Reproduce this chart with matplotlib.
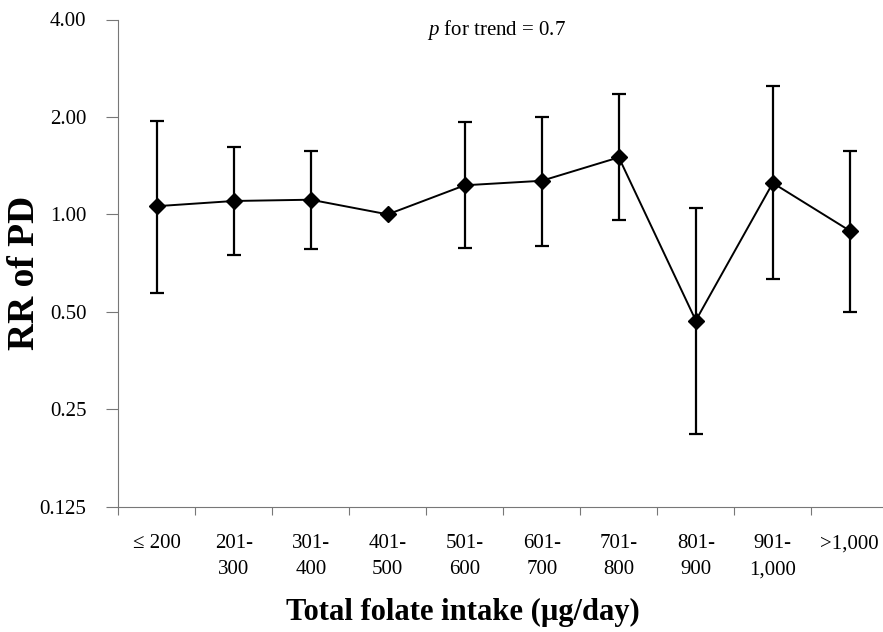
import matplotlib.pyplot as plt
import numpy as np

# intake categories and relative risks
categories = ["\u2264 200", "201-\n300", "301-\n400", "401-\n500", "501-\n600",
              "601-\n700", "701-\n800", "801-\n900", "901-\n1,000", ">1,000"]
rr = [1.06, 1.10, 1.11, 1.00, 1.23, 1.27, 1.50, 0.47, 1.25, 0.89]
ci_low = [0.57, 0.75, 0.78, 1.00, 0.79, 0.80, 0.96, 0.21, 0.63, 0.50]
ci_high = [1.94, 1.61, 1.57, 1.00, 1.93, 2.00, 2.35, 1.05, 2.49, 1.57]
yticks = [0.125, 0.25, 0.5, 1, 2, 4]
ytick_labels = ["0.125", "0.25", "0.50", "1.00", "2.00", "4.00"]

plt.rcParams["font.family"] = ["Liberation Serif", "DejaVu Serif"]
plt.rcParams["mathtext.fontset"] = "custom"
plt.rcParams["mathtext.it"] = "Liberation Serif:italic"
plt.rcParams["mathtext.rm"] = "Liberation Serif"

W, H = 883, 632
fig = plt.figure(figsize=(W / 100, H / 100), dpi=100)
# axes box in pixels: left 118, right 888 (runs past the edge), top 19.5, bottom 506.7
ax = fig.add_axes([118.3 / W, 1 - 506.7 / H, (888.3 - 118.3) / W, (506.7 - 19.5) / H])

x = np.arange(len(categories))
rr = np.array(rr)
err = np.array([rr - np.array(ci_low), np.array(ci_high) - rr])

ax.errorbar(x, rr, yerr=err, fmt="none", ecolor="black", elinewidth=1.6,
            capsize=5, capthick=1.6)
ax.plot(x, rr, color="black", lw=1.4, marker="D", markersize=8, zorder=3)

ax.set_yscale("log", base=2)
ax.set_ylim(0.125, 4)
ax.set_yticks(yticks)
ax.set_yticklabels(ytick_labels)
ax.minorticks_off()
ax.set_xlim(-0.5, len(categories) - 0.5)

# x ticks sit on category boundaries, labels in the middle
ax.set_xticks(np.arange(len(categories)) - 0.5)
ax.set_xticklabels([])
ax.set_xticks(x, minor=True)
ax.set_xticklabels(categories, minor=True, fontsize=15, linespacing=1.5, va="top")
ax.tick_params(axis="x", which="minor", length=0, pad=20)
ax.tick_params(axis="x", which="major", length=6, width=0.8, color="#777777")
ax.tick_params(axis="y", length=9, width=0.8, color="#777777", labelsize=15, pad=14)

for s in ["top", "right"]:
    ax.spines[s].set_visible(False)
for s in ["left", "bottom"]:
    ax.spines[s].set_color("#777777")
    ax.spines[s].set_linewidth(0.8)

fig.text(25 / W, 1 - 273 / H, "RR of PD", rotation=90, fontsize=27,
         fontweight="bold", ha="center", va="center")
fig.text(463 / W, 1 - 612 / H, "Total folate intake (\u00b5g/day)", fontsize=22,
         fontweight="bold", ha="center", va="center")
fig.text(497 / W, 1 - 30 / H, "$p$ for trend = 0.7", fontsize=15,
         ha="center", va="center")

fig.savefig("out.png", dpi=100)
